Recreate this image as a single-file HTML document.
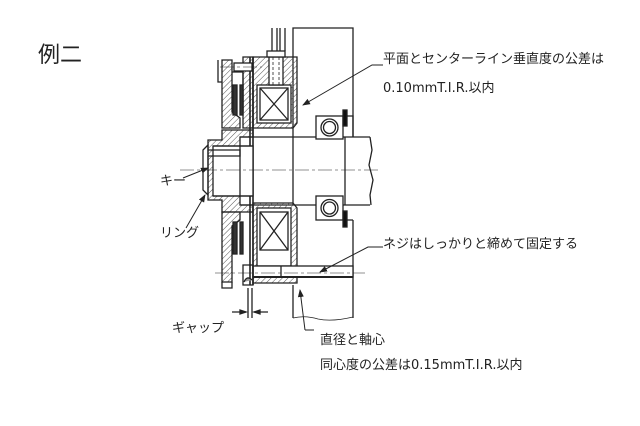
<!DOCTYPE html>
<html><head><meta charset="utf-8">
<style>
html,body{margin:0;padding:0;background:#fff;}
svg{display:block;}
text{font-family:"DejaVu Sans","Noto Sans CJK JP",sans-serif;fill:#222;}
</style></head>
<body>
<svg width="640" height="426" viewBox="0 0 640 426" xmlns="http://www.w3.org/2000/svg">
<defs>
<pattern id="h" width="4" height="4" patternUnits="userSpaceOnUse" patternTransform="rotate(45)">
<line x1="0" y1="0" x2="0" y2="4" stroke="#555" stroke-width="1"/>
</pattern>
<marker id="ar" markerWidth="8" markerHeight="8" refX="7" refY="4" orient="auto" markerUnits="userSpaceOnUse">
<path d="M0,1 L8,4 L0,7 Z" fill="#222"/>
</marker>
</defs>
<g stroke="#222" stroke-width="1.3" fill="none">
<path d="M293,137 L293,28 L353,28 L353,137"/>
<path d="M370,137 L372,150 L369,165 L373,180 L370,195 L371,205" />
<path d="M240,137 L370,137 M240,205 L370,205"/>
<path d="M293,137 L293,205 M345,137 L345,205"/>
<rect x="316" y="116" width="27" height="23" fill="#fff"/>
<circle cx="329.5" cy="127.5" r="8.5"/>
<circle cx="329.5" cy="127.5" r="6"/>
<rect x="316" y="196" width="27" height="24" fill="#fff"/>
<circle cx="329.5" cy="208" r="8.5"/>
<circle cx="329.5" cy="208" r="6"/>
<rect x="343" y="110" width="4" height="16" fill="#111"/>
<rect x="343" y="211" width="4" height="16" fill="#111"/>
<path d="M347,116 L353,116 L353,137 M347,220 L353,220"/>
<path d="M293,285 L293,318 M353,220 L353,318"/>
<path d="M293,318 Q305,315 318,319 Q332,322 353,317" stroke-width="0.8"/>
<path d="M253,57 L297,57 L297,123 L293,128 L253,128 Z" fill="url(#h)"/>
<rect x="257" y="85" width="34" height="38" fill="#fff"/>
<rect x="260" y="88" width="28" height="32"/>
<path d="M260,88 L288,120 M288,88 L260,120"/>
<rect x="269" y="57" width="14" height="28" fill="#fff"/>
<path d="M273,57 L273,85 M279,57 L279,85" stroke-dasharray="3,2" stroke-width="0.8"/>
<rect x="267" y="51" width="18" height="6" fill="#fff"/>
<path d="M272,51 L272,28 M277,51 L277,28 M280,51 L280,28 M285,51 L285,28"/>
<path d="M253,203 L293,203 L297,208 L297,283 L253,283 Z" fill="url(#h)"/>
<rect x="257" y="208" width="34" height="58" fill="#fff"/>
<rect x="260" y="212" width="28" height="38"/>
<path d="M260,212 L288,250 M288,212 L260,250"/>
<rect x="253" y="266" width="100" height="11" fill="#fff"/>
<path d="M253,277 L353,277" stroke-width="2"/>
<path d="M281,266 L281,277"/>
<path d="M243,57 L253,57 L253,128 L243,128 Z" fill="url(#h)"/>
<path d="M250,57 L250,285 M253,57 L253,285" stroke-width="1.6"/>
<path d="M222,60 L232,60 L232,112 L240,118 L240,128 L222,128 Z" fill="url(#h)"/>
<path d="M232,72 L243,72 L243,112"/>
<rect x="233" y="85" width="4" height="30" fill="#333"/>
<rect x="240" y="85" width="3" height="30" fill="#333"/>
<path d="M218,60 L218,82 L222,82"/>
<rect x="234" y="63" width="18" height="8" fill="#fff"/>
<path d="M208,140 L222,140 L222,130 L253,130 L253,137 L240,137 L240,205 L253,205 L253,212 L222,212 L222,200 L208,200 Z" fill="url(#h)"/>
<rect x="213" y="146" width="40" height="50" fill="#fff"/>
<path d="M213,146 L253,146 M213,196 L253,196 M240,146 L240,196"/>
<path d="M203,150 L208,145 L208,195 L203,190 Z"/>
<path d="M208,150 L240,150 L240,156 L208,156"/>
<path d="M222,212 L240,212 L240,220 L232,226 L232,282 L222,282 Z" fill="url(#h)"/>
<rect x="233" y="222" width="4" height="32" fill="#333"/>
<rect x="240" y="222" width="3" height="32" fill="#333"/>
<path d="M222,282 L222,288 L232,288 L232,282"/>
<path d="M243,265 L253,265 L253,285 L243,285 Z"/>
<path d="M244,282 Q247,275 252,280" fill="#999"/>
<path d="M180,170 L380,170 M220,67 L262,67 M215,273 L365,273" stroke-width="0.6" stroke-dasharray="14,3,3,3"/>
<path d="M248,288 L248,318 M252,288 L252,318 M232,312 L246,312 M268,312 L254,312"/>
<path d="M246,312 L240,310 L240,314 Z M254,312 L260,310 L260,314 Z" fill="#222"/>
<path d="M383,65 L372,65 L303,105" marker-end="url(#ar)" stroke-width="1"/>
<path d="M383,247 L368,247 L320,272" marker-end="url(#ar)" stroke-width="1"/>
<path d="M183,178 L208,168" marker-end="url(#ar)" stroke-width="1"/>
<path d="M186,228 L205,195" marker-end="url(#ar)" stroke-width="1"/>
<path d="M305,330 L300,290" marker-end="url(#ar)" stroke-width="1"/>
<path d="M305,330 L314,330" stroke-width="1"/>
</g>
<text x="38" y="62" font-size="22">例二</text>
<text x="383" y="63" font-size="13">平面とセンターライン垂直度の公差は</text>
<text x="383" y="92" font-size="13">0.10mmT.I.R.以内</text>
<text x="160" y="185" font-size="13">キー</text>
<text x="160" y="237" font-size="13">リング</text>
<text x="383" y="248" font-size="13">ネジはしっかりと締めて固定する</text>
<text x="172" y="332" font-size="13">ギャップ</text>
<text x="320" y="344" font-size="13">直径と軸心</text>
<text x="320" y="369" font-size="13">同心度の公差は0.15mmT.I.R.以内</text>
</svg>
</body></html>
